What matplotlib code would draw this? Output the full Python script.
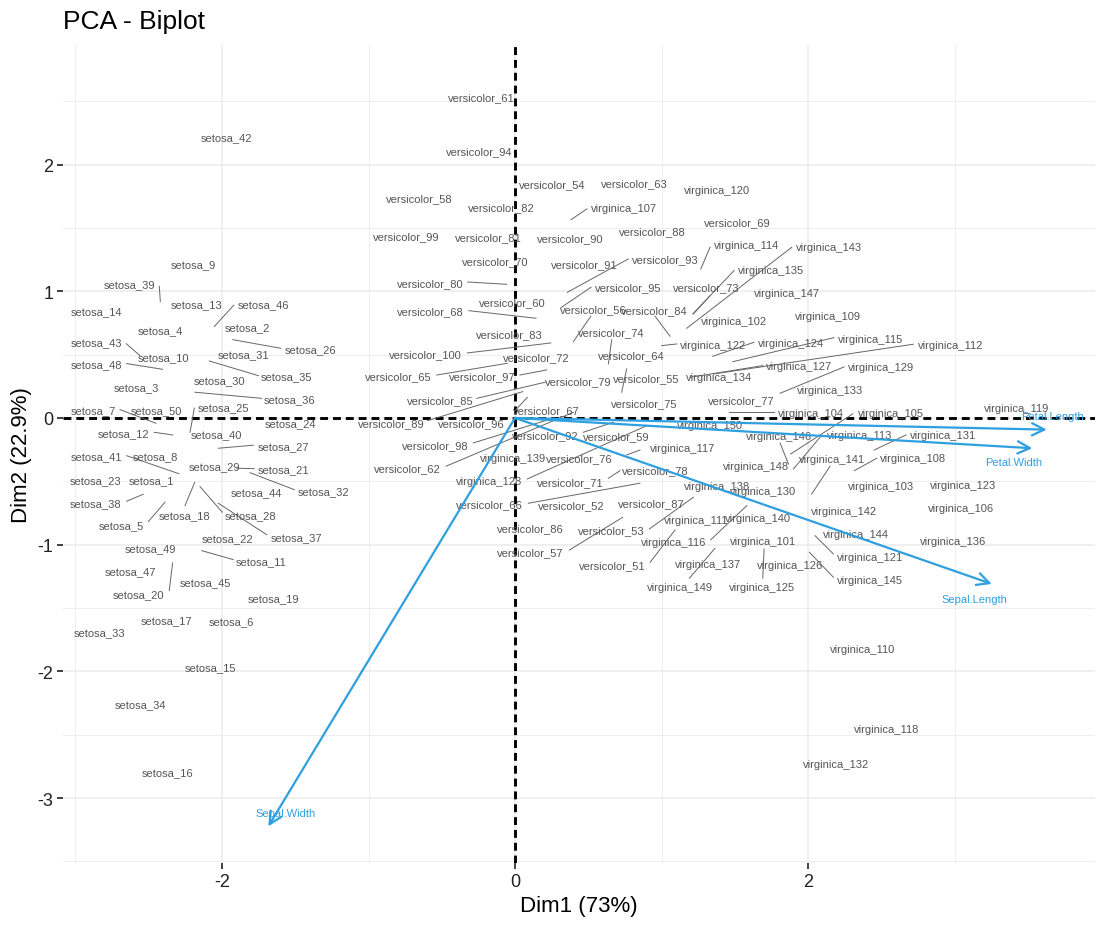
import matplotlib
matplotlib.use('Agg')
import matplotlib.pyplot as plt

plt.rcParams['font.family'] = ['Liberation Sans', 'DejaVu Sans']
plt.rcParams['axes.unicode_minus'] = False

# individual labels (Dim1, Dim2) as placed in the biplot
setosa_x = [-2.485, -1.829, -2.585, -2.423, -2.685, -1.934, -2.878, -2.453, -2.196, -2.398,
            -1.734, -2.674, -2.175, -2.860, -2.080, -2.373, -2.378, -2.259, -1.650, -2.567,
            -1.577, -1.961, -2.860, -1.531, -1.991, -1.399, -1.582, -1.802, -2.053, -2.014,
            -1.855, -1.309, -2.833, -2.555, -1.558, -1.536, -1.490, -2.860, -2.633, -2.036,
            -2.860, -1.968, -2.860, -1.763, -2.111, -1.720, -2.626, -2.860, -2.491, -2.446]
setosa_y = [-0.489, 0.716, 0.245, 0.695, -0.845, -1.602, 0.063, -0.300, 1.215, 0.484,
            -1.129, -0.118, 0.900, 0.842, -1.968, -2.796, -1.592, -0.766, -1.421, -1.389,
            -0.403, -0.947, -0.489, -0.039, 0.087, 0.545, -0.221, -0.766, -0.381, 0.300,
            0.503, -0.576, -1.689, -2.260, 0.334, 0.150, -0.937, -0.671, 1.058, -0.126,
            -0.300, 2.216, 0.600, -0.584, -1.292, 0.900, -1.208, 0.424, -1.026, 0.063]

versicolor_x = [0.664, 0.387, 0.660, 0.257, 0.894, 0.534, 0.107, -0.651, 0.694, -0.020,
                -0.227, -0.732, 0.814, 0.792, -0.797, -0.175, 0.212, -0.578, 1.517, -0.132,
                0.375, 0.145, 1.304, 0.655, 0.883, 0.439, 1.543, 0.956, 0.432, -0.580,
                -0.184, -0.094, -0.039, 0.949, -0.512, 0.102, 0.933, 0.937, -0.848, 0.377,
                0.476, 0.205, 1.026, -0.244, 0.773, -0.296, -0.223, -0.541, -0.742, -0.610]
versicolor_y = [-1.160, -0.687, -0.884, 1.845, 0.316, 0.860, -1.055, 1.734, -0.140, 0.918,
                2.531, -0.395, 1.852, 0.495, 0.329, -0.679, 0.058, 0.845, 1.547, 1.237,
                -0.508, 0.484, 1.034, 0.676, 0.118, -0.318, 0.144, -0.408, 0.294, 1.066,
                1.426, 1.663, 0.663, 0.852, 0.142, -0.866, -0.673, 1.474, -0.039, 1.418,
                1.215, -0.134, 1.253, 2.105, 1.032, -0.039, 0.329, -0.213, 1.436, 0.503]

virginica_x = [1.691, 1.497, 2.496, 2.018, 2.567, 3.042, 0.742, 2.719, 2.134, 2.369,
               1.235, 2.974, 2.350, 1.582, 2.428, 1.081, 1.145, 2.539, 3.425, 1.381,
               2.423, 1.354, 3.056, 1.882, 1.688, 1.877, 1.941, -0.175, 2.498, 1.695,
               2.919, 2.189, 2.150, 1.392, 1.747, 2.988, 1.319, 1.377, -0.016, 1.661,
               2.166, 2.246, 2.141, 2.328, 2.423, 1.804, 1.857, 1.645, 1.126, 1.331]
virginica_y = [-0.971, 0.766, -0.534, 0.037, 0.039, -0.710, 1.657, -0.316, 0.807, -1.823,
               -0.805, 0.579, -0.132, 1.365, 0.624, -0.979, -0.239, -2.455, 0.079, 1.800,
               -1.097, 0.579, -0.529, 0.594, -1.334, -1.160, 0.408, -0.495, 0.403, -0.574,
               -0.132, -2.729, 0.223, 0.321, 1.168, -0.971, -1.152, -0.539, -0.318, -0.789,
               -0.324, -0.732, 1.350, -0.916, -1.279, -0.140, 0.987, -0.376, -1.334, -0.053]

# repel leader lines (x0, y0, x1, y1)
leaders = [
    (-2.428, 1.039, -2.421, 0.918), (-1.920, 0.890, -2.053, 0.721), (-1.927, 0.618, -1.599, 0.550),
    (-2.653, 0.586, -2.560, 0.492), (-2.651, 0.429, -2.405, 0.384), (-2.087, 0.450, -1.752, 0.334),
    (-2.184, 0.203, -1.729, 0.155), (-2.696, 0.066, -2.451, -0.042), (-2.189, 0.077, -2.218, -0.113),
    (-2.464, -0.113, -2.337, -0.134), (-2.025, -0.239, -1.786, -0.215), (-2.651, -0.298, -2.294, -0.440),
    (-1.900, -0.397, -1.780, -0.400), (-1.809, -0.432, -1.506, -0.566), (-2.651, -0.657, -2.537, -0.602),
    (-2.503, -0.818, -2.389, -0.665), (-2.253, -0.692, -2.186, -0.508), (-1.998, -0.744, -2.150, -0.542),
    (-1.695, -0.921, -2.025, -0.673), (-2.139, -1.047, -1.923, -1.118), (-2.360, -1.363, -2.337, -1.144),
    (0.491, 1.650, 0.382, 1.565), (0.773, 1.255, 0.357, 0.992), (-0.323, 1.073, -0.057, 1.055),
    (0.519, 1.032, 0.314, 0.871), (-0.316, 0.847, 0.143, 0.787), (0.956, 0.803, 1.058, 0.645),
    (0.660, 0.618, 0.637, 0.426), (0.517, 0.803, 0.398, 0.602), (-0.326, 0.513, 0.244, 0.592),
    (1.001, 0.571, 1.104, 0.584), (-0.534, 0.339, -0.050, 0.432), (0.034, 0.339, 0.216, 0.379),
    (-0.261, 0.155, 0.205, 0.282), (0.728, 0.203, 0.762, 0.387), (-0.596, -0.021, 0.053, 0.208),
    (0.000, 0.058, 0.084, 0.163), (-0.285, -0.197, 0.261, -0.002), (-0.471, -0.381, 0.398, 0.045),
    (0.084, -0.481, 0.899, -0.061), (0.637, -0.476, 0.717, -0.416), (0.762, -0.292, 0.853, -0.253),
    (0.091, -0.673, 0.853, -0.515), (0.917, -0.876, 1.217, -0.626), (0.371, -1.042, 0.735, -0.784),
    (0.922, -1.139, 1.092, -0.884), (1.463, 0.045, 1.768, 0.045), (2.305, 0.032, 1.882, -0.284),
    (2.082, -0.152, 1.900, -0.403), (1.809, -0.197, 1.866, -0.363), (2.669, -0.134, 2.451, -0.253),
    (2.469, -0.318, 2.316, -0.416), (2.150, -0.381, 2.025, -0.600), (1.582, -0.692, 1.336, -0.961),
    (2.048, -0.929, 2.173, -1.073), (1.700, -1.034, 1.691, -1.265), (2.009, -1.060, 2.173, -1.257),
    (1.365, -1.028, 1.190, -1.265), (1.331, 1.347, 1.268, 1.176), (1.889, 1.347, 1.172, 0.708),
    (1.495, 1.163, 1.213, 0.821), (1.217, 0.821, 1.331, 0.965), (1.631, 0.597, 1.350, 0.487),
    (2.177, 0.634, 1.486, 0.444), (2.719, 0.582, 1.354, 0.347), (1.691, 0.413, 1.195, 0.321),
    (2.246, 0.403, 1.809, 0.195), (0.466, -0.113, 0.671, -0.034),
]

# variable arrows
var_names = ['Sepal.Length', 'Sepal.Width', 'Petal.Length', 'Petal.Width']
var_x = [3.254, -1.684, 3.629, 3.531]
var_y = [-1.310, -3.223, -0.092, -0.239]
var_lab_x = [3.135, -1.563, 3.670, 3.401]
var_lab_y = [-1.429, -3.118, 0.018, -0.345]

blue = '#2E9FDF'
txt_col = '#555555'

fig = plt.figure(figsize=(11.04, 9.28), dpi=100)
ax = fig.add_axes([0.0571, 0.069, 0.9348, 0.8815])
ax.set_xlim(-3.085, 3.959)
ax.set_ylim(-3.512, 2.944)

# grid like theme_minimal
for v in [-3, -1, 1, 3]:
    ax.axvline(v, color='#ebebeb', lw=0.6, zorder=0)
for v in [-2, 0, 2]:
    ax.axvline(v, color='#ebebeb', lw=1.1, zorder=0)
for v in [-3.5, -2.5, -1.5, -0.5, 0.5, 1.5, 2.5]:
    ax.axhline(v, color='#ebebeb', lw=0.6, zorder=0)
for v in [-3, -2, -1, 0, 1, 2]:
    ax.axhline(v, color='#ebebeb', lw=1.1, zorder=0)
for s in ax.spines.values():
    s.set_visible(False)

ax.axhline(0, color='black', lw=2.1, ls=(0, (2.7, 1.7)), zorder=1)
ax.axvline(0, color='black', lw=2.1, ls=(0, (2.7, 1.7)), zorder=1)

for x0, y0, x1, y1 in leaders:
    ax.plot([x0, x1], [y0, y1], color='#666666', lw=0.7, zorder=2)

groups = [('setosa', 1, setosa_x, setosa_y),
          ('versicolor', 51, versicolor_x, versicolor_y),
          ('virginica', 101, virginica_x, virginica_y)]
for name, start, xs, ys in groups:
    for i, (x, y) in enumerate(zip(xs, ys)):
        ax.text(x, y, f'{name}_{start + i}', fontsize=8, color=txt_col,
                ha='center', va='center', zorder=3)

for name, x, y, lx, ly in zip(var_names, var_x, var_y, var_lab_x, var_lab_y):
    ax.annotate('', xy=(x, y), xytext=(0, 0),
                arrowprops=dict(arrowstyle='->', color=blue, lw=1.6,
                                mutation_scale=22, shrinkA=0, shrinkB=0),
                zorder=4)
    ax.text(lx, ly, name, fontsize=8, color=blue, ha='center', va='center', zorder=5)

ax.set_xticks([-2, 0, 2])
ax.set_yticks([-3, -2, -1, 0, 1, 2])
ax.tick_params(length=4, width=1.3, color='#333333', labelsize=13, labelcolor='#222222', pad=3)
ax.set_xlabel('Dim1 (73%)', fontsize=16, labelpad=4)
ax.set_ylabel('Dim2 (22.9%)', fontsize=16, labelpad=4)
fig.text(0.0571, 0.976, 'PCA - Biplot', fontsize=19, ha='left', va='center')

fig.savefig('out.png', dpi=100)
